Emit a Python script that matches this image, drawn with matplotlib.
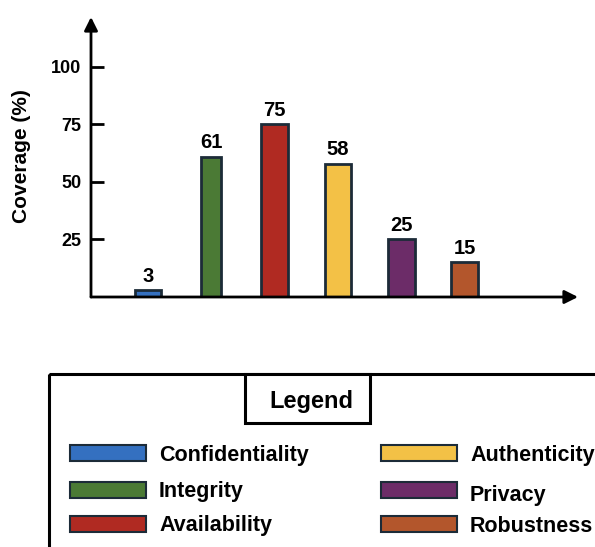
import matplotlib
matplotlib.use("Agg")
import matplotlib.pyplot as plt
from matplotlib.patches import Rectangle

plt.rcParams['font.family'] = ['Liberation Sans', 'DejaVu Sans']
plt.rcParams['font.weight'] = 'bold'

# coverage per security property (%)
properties = ['Confidentiality', 'Integrity', 'Availability',
              'Authenticity', 'Privacy', 'Robustness']
coverage = [3, 61, 75, 58, 25, 15]
colors = ['#3470c0', '#4b7a35', '#b02a22', '#f3c146', '#6c2c68', '#b3562c']
ytick_values = [25, 50, 75, 100]

EDGE = '#1c2b38'
W, H = 595, 547

fig = plt.figure(figsize=(W / 100, H / 100), dpi=100)

# main axes, placed by pixel box (left 91, top 17, right 578, bottom 297)
ax = fig.add_axes([91 / W, 1 - 297 / H, (578 - 91) / W, (297 - 17) / H])
xs = list(range(len(coverage)))
widths = [0.425, 0.315, 0.425, 0.425, 0.425, 0.425]
ax.bar(xs, coverage, width=widths, color=colors, edgecolor=EDGE, linewidth=2, zorder=3)
for x, v in zip(xs, coverage):
    ax.annotate(str(v), (x, v), xytext=(0, 6), textcoords='offset points',
                ha='center', va='baseline', fontsize=14.5, fontweight='bold')

ax.set_xlim(-0.9, 6.79)
ax.set_ylim(0, 121.7)
for s in ax.spines.values():
    s.set_visible(False)
ax.set_xticks([])
ax.set_yticks(ytick_values)
ax.set_yticklabels([str(t) for t in ytick_values], fontsize=13, fontweight='bold')
ax.tick_params(axis='y', direction='in', length=9, width=2, pad=7, color='black')

# arrowed axes
arrow = dict(arrowstyle='-|>,head_length=0.8,head_width=0.4', color='black',
             lw=2, shrinkA=0, shrinkB=0)
ax.annotate('', xy=(1, 0), xytext=(0, 0), xycoords='axes fraction', arrowprops=arrow)
ax.annotate('', xy=(0, 1), xytext=(0, 0), xycoords='axes fraction', arrowprops=arrow)

fig.text(22 / W, 1 - 156 / H, 'Coverage (%)', rotation=90, ha='center', va='center',
         fontsize=15, fontweight='bold')

# legend drawn on a full-figure overlay in pixel units
lg = fig.add_axes([0, 0, 1, 1])
lg.set_xlim(0, W)
lg.set_ylim(H, 0)
lg.axis('off')
lg.add_patch(Rectangle((49, 374), 600, 220, fill=False, edgecolor='black', linewidth=2.2))
lg.add_patch(Rectangle((245, 374), 125, 49, facecolor='white', edgecolor='black', linewidth=2.2))
lg.text(311, 408, 'Legend', ha='center', va='baseline', fontsize=17, fontweight='bold')

row_y = [453, 489.5, 523.5]
for i, (name, c) in enumerate(zip(properties, colors)):
    col, row = divmod(i, 3)
    sx = 70 if col == 0 else 381
    cy = row_y[row]
    ty = cy + 8 + (3 if (col, row) == (1, 1) else 0)
    lg.add_patch(Rectangle((sx, cy - 8), 76, 16, facecolor=c, edgecolor=EDGE, linewidth=1.5))
    lg.text(sx + 89, ty, name, ha='left', va='baseline', fontsize=15.5, fontweight='bold')

fig.savefig('out.png', dpi=100)
